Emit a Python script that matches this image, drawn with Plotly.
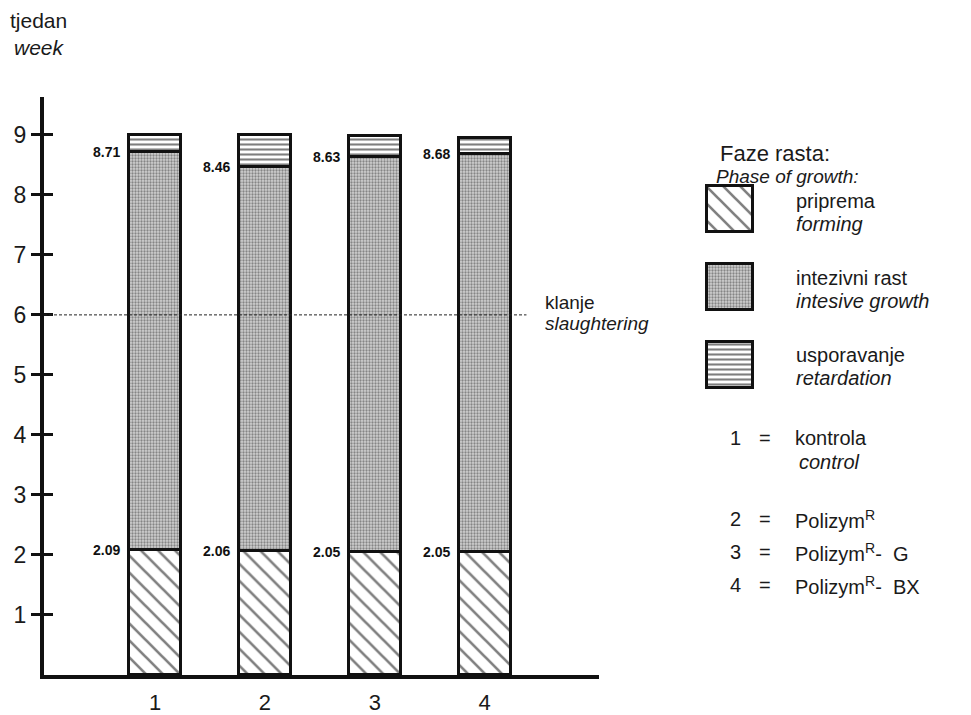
import plotly.graph_objects as go

# ---------------- data ----------------
categories = ["1", "2", "3", "4"]
forming_end = [2.09, 2.06, 2.05, 2.05]      # end of "priprema / forming"
intensive_end = [8.71, 8.46, 8.63, 8.68]    # end of "intezivni rast / intensive growth"
total_weeks = [9.00, 9.00, 8.98, 8.95]      # end of "usporavanje / retardation"
slaughter_week = 6
y_ticks = [1, 2, 3, 4, 5, 6, 7, 8, 9]

phase_names = ["priprema", "intezivni rast", "usporavanje"]
phase_names_en = ["forming", "intesive growth", "retardation"]
treatments = [("1", "kontrola", "control"),
              ("2", "Polizym<sup>R</sup>", None),
              ("3", "Polizym<sup>R</sup>-  G", None),
              ("4", "Polizym<sup>R</sup>-  BX", None)]

# ---------------- derived ----------------
x_pos = [1, 2, 3, 4]
seg_forming = forming_end
seg_intensive = [b - a for a, b in zip(forming_end, intensive_end)]
seg_retard = [b - a for a, b in zip(intensive_end, total_weeks)]

FONT = "Liberation Sans, Arial, Helvetica, sans-serif"
OFF = 6                     # page body offset
W, H = 971 - OFF - 2, 715 - OFF - 2
ML, MR, MT, MB = 42 - OFF, 10, 95 - OFF, 40
PW, PH = W - ML - MR, H - MT - MB


def px_x(p):                # screen pixel -> paper
    return (p - OFF - ML) / PW


def px_y(p):
    return (H - MB - (p - OFF)) / PH


patterns = [
    dict(shape="\\", fgcolor="#000", bgcolor="white", size=12, solidity=0.22),
    dict(shape=".", fgcolor="#3a3a3a", bgcolor="#d0d0d0", size=3, solidity=0.45),
    dict(shape="-", fgcolor="#000", bgcolor="white", size=5, solidity=0.42),
]

bar_w = 0.47
fig = go.Figure()
for seg, pat, name in zip([seg_forming, seg_intensive, seg_retard], patterns, phase_names):
    fig.add_trace(go.Bar(
        x=x_pos, y=seg, width=bar_w, name=name,
        marker=dict(color="white", pattern=pat, line=dict(color="#111", width=3)),
        hoverinfo="skip", showlegend=False,
    ))

# invisible trace to activate overlay axis (inside ticks)
fig.add_trace(go.Scatter(x=[x_pos[0]], y=[0], yaxis="y3", mode="markers",
                         marker=dict(opacity=0), hoverinfo="skip", showlegend=False))

# legend swatches on their own small axes
legend_y = [2, 1, 0]
for i, pat in enumerate(patterns):
    fig.add_trace(go.Bar(
        x=[1], y=[legend_y[i]], base=0, orientation="h", width=0.594,
        xaxis="x2", yaxis="y2",
        marker=dict(color="white", pattern=pat, line=dict(color="#111", width=3)),
        hoverinfo="skip", showlegend=False,
    ))

x_range = [-0.01, 5.04]
y_range = [0, 9.63]

fig.update_layout(
    width=W, height=H,
    margin=dict(l=ML, r=MR, t=MT, b=MB, autoexpand=False),
    paper_bgcolor="white", plot_bgcolor="white",
    barmode="stack", bargap=0,
    font=dict(family=FONT, color="#1a1a1a"),
    xaxis=dict(domain=[0, px_x(597)], range=x_range, tickvals=x_pos, ticktext=categories,
               showgrid=False, zeroline=False, showline=True, linecolor="#111", linewidth=4,
               ticks="outside", ticklen=5, tickcolor="rgba(0,0,0,0)", automargin=False,
               tickfont=dict(size=22, family=FONT, color="#1a1a1a")),
    yaxis=dict(range=y_range, tickvals=y_ticks, showgrid=False, zeroline=False,
               showline=True, linecolor="#111", linewidth=4, automargin=False,
               ticks="outside", ticklen=9, tickwidth=3, tickcolor="#111",
               tickfont=dict(size=23, family=FONT, color="#1a1a1a")),
    yaxis3=dict(range=y_range, tickvals=y_ticks, overlaying="y", side="left", anchor="x",
                showgrid=False, zeroline=False, showline=False, showticklabels=False,
                automargin=False,
                ticks="inside", ticklen=9, tickwidth=3, tickcolor="#111"),
    xaxis2=dict(domain=[px_x(700), px_x(756)], range=[-0.109, 1.109], anchor="y2",
                visible=False, fixedrange=True, automargin=False),
    yaxis2=dict(domain=[px_y(390), px_y(180)], range=[-0.348, 2.348], anchor="x2",
                visible=False, fixedrange=True, automargin=False),
    showlegend=False,
)

# slaughtering line
fig.add_shape(type="line", xref="x", yref="y", x0=x_range[0], x1=4.38,
              y0=slaughter_week, y1=slaughter_week,
              line=dict(color="#222", width=1, dash="3px,2px"))

ann = []
# value labels
for vals in (intensive_end, forming_end):
    for xi, v in zip(x_pos, vals):
        ann.append(dict(x=xi - bar_w / 2, y=v, xref="x", yref="y", text=f"{v:.2f}",
                        xanchor="right", yanchor="middle", xshift=-7, showarrow=False,
                        font=dict(size=14, family=FONT, color="#111", weight="bold")))


def txt(text, px, py, size, italic=False, anchor="left"):
    ann.append(dict(x=px_x(px), y=px_y(py), xref="paper", yref="paper", text=text,
                    xanchor=anchor, yanchor="middle", showarrow=False,
                    font=dict(size=size, family=FONT, color="#1a1a1a",
                              style="italic" if italic else "normal")))


# y axis title
txt("tjedan", 6, 19, 21)
txt("week", 10, 45, 21, italic=True)

# slaughter label
txt("klanje", 541, 300, 19)
txt("slaughtering", 541, 321, 19, italic=True)

# legend texts
txt("Faze rasta:", 716, 151, 22)
txt("Phase of growth:", 712, 174, 19, italic=True)
legend_text_y = [(199, 222), (276, 299), (353, 376)]
for (y1, y2), n1, n2 in zip(legend_text_y, phase_names, phase_names_en):
    txt(n1, 792, y1, 20)
    txt(n2, 792, y2, 20, italic=True)

treat_y = [436, 517, 550, 583]
for (num, name, en), ty in zip(treatments, treat_y):
    txt(num, 733, ty, 20, anchor="center")
    txt("=", 763, ty, 20, anchor="center")
    txt(name, 791, ty, 20)
    if en:
        txt(en, 795, ty + 24, 20, italic=True)

fig.update_layout(annotations=ann)

fig.write_html("out.html")
